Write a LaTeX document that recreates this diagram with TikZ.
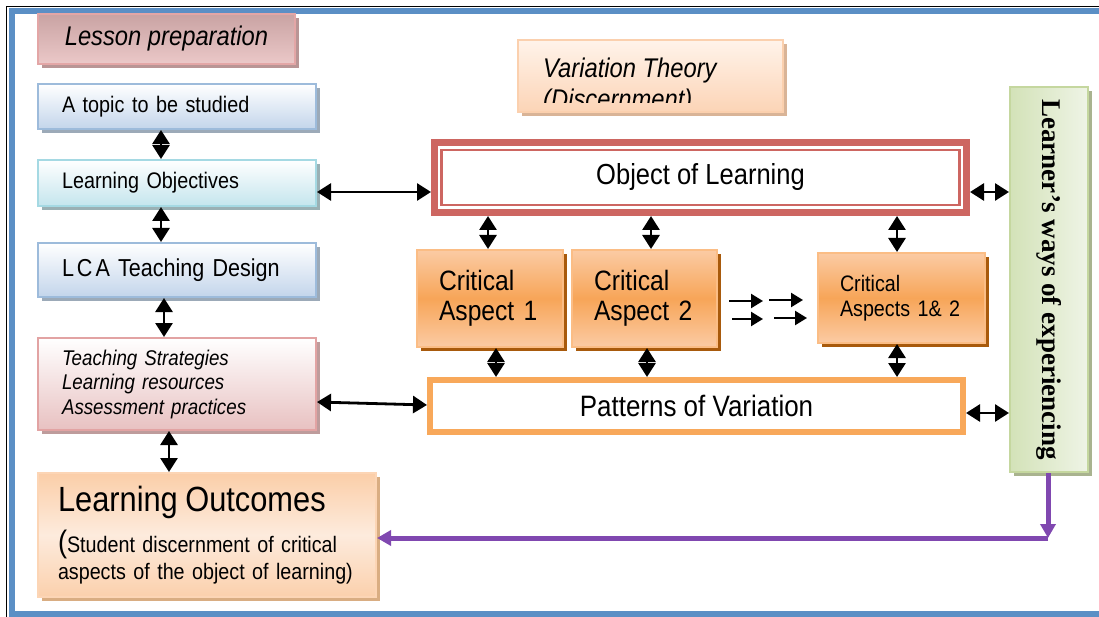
\documentclass[tikz,border=0pt]{standalone}
\usepackage{fontspec}
\setmainfont{Liberation Sans}[FakeStretch=0.88]
\newfontfamily\learnerfont{Liberation Serif}
\usepackage{graphicx}
\usepackage{tikz}
\usetikzlibrary{arrows.meta,shadows}

\definecolor{frameblue}{HTML}{5B8FC5}
\definecolor{lptop}{HTML}{C9A3A3}
\definecolor{lpbot}{HTML}{EBC8C8}
\definecolor{lpdraw}{HTML}{E3A6A6}
\definecolor{lpsh}{HTML}{B99595}
\definecolor{bluebot}{HTML}{C3D5EB}
\definecolor{bluedraw}{HTML}{9DBBDB}
\definecolor{bluesh}{HTML}{9CAAB8}
\definecolor{cyanbot}{HTML}{C4E5ED}
\definecolor{cyandraw}{HTML}{A5D9E3}
\definecolor{cyansh}{HTML}{9AB0B4}
\definecolor{pinkbot}{HTML}{E8C1C1}
\definecolor{pinkdraw}{HTML}{E2A3A3}
\definecolor{pinksh}{HTML}{BE9C9C}
\definecolor{outtop}{HTML}{FBCEA8}
\definecolor{outmid}{HTML}{FDEBDD}
\definecolor{outbot}{HTML}{FBD0AC}
\definecolor{outdraw}{HTML}{FCD5B5}
\definecolor{outsh}{HTML}{D9AD82}
\definecolor{vttop}{HTML}{FFF3EA}
\definecolor{vtbot}{HTML}{FCD4B6}
\definecolor{vtdraw}{HTML}{FBD0AE}
\definecolor{vtsh}{HTML}{D9B497}
\definecolor{objred}{HTML}{CD6661}
\definecolor{catop}{HTML}{FBCBA4}
\definecolor{camid}{HTML}{F7A558}
\definecolor{cadraw}{HTML}{FBBD85}
\definecolor{cash}{HTML}{A85A0C}
\definecolor{pvorange}{HTML}{F8A85A}
\definecolor{lwleft}{HTML}{D3E2B8}
\definecolor{lwright}{HTML}{EFF4E6}
\definecolor{lwdraw}{HTML}{C5D79F}
\definecolor{lwsh}{HTML}{A9B38F}
\definecolor{loopurple}{HTML}{8048B0}

\tikzset{boxshadow/.style={drop shadow={fill=#1,opacity=1,shadow xshift=4pt,shadow yshift=-4pt}}}

\begin{document}
\begin{tikzpicture}[x=1pt,y=-1pt]
    \useasboundingbox (0,0) rectangle (1099,617);
    \draw[black,line width=1.5] (1099,6.5) -| (6.5,617);
    \draw[frameblue,line width=6] (1099,11) -| (12,614) -- (1099,614);

    \begin{scope}[
        every node/.style={rectangle,line width=2,align=left,inner xsep=24pt,text width=230pt}
    ]
        \node[draw=lpdraw,top color=lptop,bottom color=lpbot,boxshadow=lpsh,align=center,text width=,inner xsep=0pt,
              minimum width=257,minimum height=50,font=\itshape\fontsize{27}{30}\selectfont] (LP) at (166.5,39) {Lesson preparation};
        \node[draw=bluedraw,top color=white,bottom color=bluebot,boxshadow=bluesh,minimum height=45,
              font=\fontsize{22.5}{26}\selectfont] (T1) at (177,106.5) {A topic to be studied};
        \node[draw=cyandraw,top color=white,bottom color=cyanbot,boxshadow=cyansh,minimum height=46,
              font=\fontsize{22.5}{26}\selectfont] (LO) at (177,183) {Learning Objectives};
        \node[draw=bluedraw,top color=white,bottom color=bluebot,boxshadow=bluesh,minimum height=54,
              font=\fontsize{24.5}{28}\selectfont] (LCA) at (177,270) {L\kern3pt C\kern3pt A~Teaching~Design};
        \node[draw=pinkdraw,top color=white,bottom color=pinkbot,boxshadow=pinksh,minimum height=92,
              font=\itshape\fontsize{21.3}{24.5}\selectfont] (TS) at (177,384) {Teaching Strategies\\Learning resources\\Assessment practices};
        \node[draw=outdraw,top color=outtop,bottom color=outbot,middle color=outmid,boxshadow=outsh,
              text width=298pt,inner xsep=20pt,minimum height=124,font=\fontsize{22.4}{27}\selectfont] (OUT) at (207,535)
              {{\fontsize{35}{38}\selectfont Learning Outcomes}\\[10pt]{\fontsize{31}{31}\selectfont(}Student discernment of critical\\aspects of the object of learning)};
    \end{scope}

    \node[draw=vtdraw,line width=2,top color=vttop,bottom color=vtbot,boxshadow=vtsh,
          minimum width=265,minimum height=72] (VT) at (650.5,76) {};
    \begin{scope}
        \clip (518,40) rectangle (783,103);
        \node[anchor=north west,align=left,inner sep=0pt,font=\itshape\fontsize{27}{31}\selectfont] (VTtext) at (543,57.5)
              {Variation Theory\\(Discernment)};
    \end{scope}

    \node[draw=objred,line width=7,fill=white,minimum width=532,minimum height=70,
          font=\fontsize{29}{30}\selectfont] (OL) at (700.5,177.5) {Object of Learning};
    \draw[objred,line width=2.5] ([shift={(10.5,11)}]OL.north west) rectangle ([shift={(-10.5,-11)}]OL.south east);

    \begin{scope}[
        every node/.style={rectangle,draw=cadraw,line width=2,top color=catop,bottom color=catop,middle color=camid,
                           boxshadow=cash,align=left,inner xsep=22pt}
    ]
        \node[text width=102pt,minimum height=97,font=\fontsize{28}{30}\selectfont] (CA1) at (490,298.5) {Critical\\Aspect~1};
        \node[text width=101pt,minimum height=97,font=\fontsize{28}{30}\selectfont] (CA2) at (644.5,298.5) {Critical\\Aspect~2};
        \node[text width=123pt,minimum height=90,font=\fontsize{22.4}{25}\selectfont] (CA3) at (901.5,298) {Critical\\Aspects~1\&~2};
    \end{scope}

    \node[draw=pvorange,line width=6,fill=white,minimum width=533,minimum height=52,
          font=\fontsize{29.5}{30}\selectfont] (PV) at (696.5,406) {Patterns of Variation};

    \node[draw=lwdraw,line width=2,left color=lwleft,right color=lwright,boxshadow=lwsh,
          minimum width=78,minimum height=385,inner sep=0pt] (LW) at (1049,279.5)
          {\rotatebox{-90}{\learnerfont\bfseries\fontsize{27}{30}\selectfont Learner’s ways of experiencing}};

    \coordinate (s1) at (729,301);
    \coordinate (e1) at (763,301);
    \coordinate (s2) at (769,300);
    \coordinate (e2) at (803,300);
    \coordinate (s3) at (732,319);
    \coordinate (e3) at (763,319);
    \coordinate (s4) at (774,318);
    \coordinate (e4) at (807,318);
    \coordinate (turn) at (1048,538);

    \begin{scope}[
        >={Triangle[length=14pt,width=17pt]},
        every edge/.style={draw=black,line width=2.8}
    ]
        \path [<->] ([xshift=-16]T1.south) edge ([xshift=-16]LO.north);
        \path [<->] ([xshift=-16]LO.south) edge ([xshift=-16]LCA.north);
        \path [<->] ([xshift=-13]LCA.south) edge ([xshift=-13]TS.north);
        \path [<->] ([xshift=-8]TS.south) edge ([xshift=-38]OUT.north);

        \path [<->] ([yshift=-9]LO.east) edge ([yshift=-14.5]OL.west);
        \path [<->] ([yshift=-18]TS.east) edge ([yshift=1]PV.west);

        \path [<->] ([xshift=-212.5]OL.south) edge ([xshift=-2]CA1.north);
        \path [<->] ([xshift=-49.5]OL.south) edge ([xshift=6.5]CA2.north);
        \path [<->] ([xshift=196.5]OL.south) edge ([xshift=-4.5]CA3.north);
        \path [<->] ([xshift=6]CA1.south) edge ([xshift=-200.5]PV.north);
        \path [<->] ([xshift=2.5]CA2.south) edge ([xshift=-49.5]PV.north);
        \path [<->] ([xshift=-4.5]CA3.south) edge ([xshift=200.5]PV.north);

        \path [<->] ([yshift=-14.5]OL.east) edge ([yshift=87.5]LW.west);
        \path [<->] ([yshift=-7]PV.east) edge ([yshift=-133.5]LW.west);
    \end{scope}

    \begin{scope}[
        >={Triangle[length=12pt,width=14pt]},
        every edge/.style={draw=black,line width=2.4}
    ]
        \path [->] (s1) edge (e1);
        \path [->] (s2) edge (e2);
        \path [->] (s3) edge (e3);
        \path [->] (s4) edge (e4);
    \end{scope}

    \begin{scope}[
        >={Triangle[length=14pt,width=15pt]},
        every edge/.style={draw=loopurple,line width=5}
    ]
        \path [->] ([xshift=-1]LW.south) edge (turn);
        \path [->] (turn) edge ([yshift=-3]OUT.east);
    \end{scope}
\end{tikzpicture}
\end{document}
